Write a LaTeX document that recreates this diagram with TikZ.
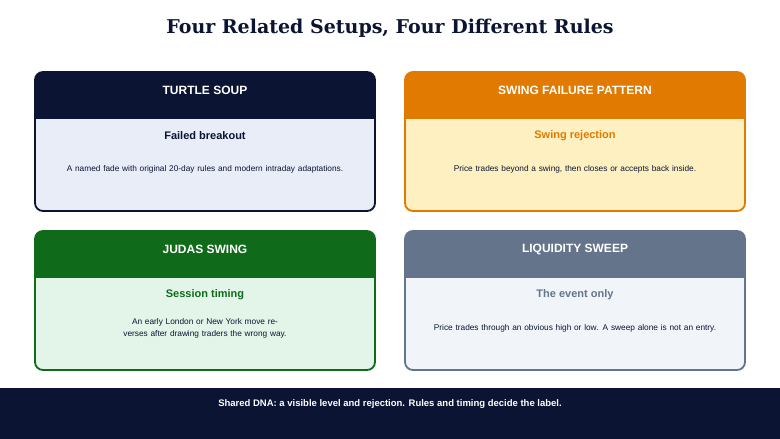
\documentclass[tikz,border=0pt]{standalone}
\usepackage{fontspec}
\setmainfont{Liberation Sans}
\newfontfamily\titlefont{DejaVu Serif}
\definecolor{navy}{HTML}{0B1533}
\definecolor{org}{HTML}{E07A00}
\definecolor{orgb}{HTML}{FEF0C0}
\definecolor{grn}{HTML}{0F6B1A}
\definecolor{grnb}{HTML}{E3F5E8}
\definecolor{slt}{HTML}{64748B}
\definecolor{sltb}{HTML}{F1F5F9}
\definecolor{navb}{HTML}{E8EDF8}
\begin{document}
\begin{tikzpicture}[x=1pt,y=-1pt,
  hdr/.style={font=\bfseries\fontsize{12}{14}\selectfont,text=white},
  sub/.style={font=\bfseries\fontsize{11}{13}\selectfont},
  body/.style={font=\fontsize{8.3}{12}\selectfont,text=navy,align=center,text width=300pt}]
\useasboundingbox (0,0) rectangle (780,439);
\fill[white] (0,0) rectangle (780,439);
\node[font=\titlefont\bfseries\fontsize{19}{22}\selectfont,text=navy] (title) at (390,28) {Four Related Setups, Four Different Rules};
\newcommand{\card}[9]{%
  % #1 x, #2 y, #3 main col, #4 body col, #5 title, #6 sub, #7 body, #8 subcol, #9 name
  \begin{scope}
  \clip[rounded corners=8] (#1,#2) rectangle ++(340,139);
  \fill[#4] (#1,#2) rectangle ++(340,139);
  \fill[#3] (#1,#2) rectangle ++(340,47);
  \end{scope}
  \draw[#3,line width=1.8,rounded corners=8] (#1,#2) rectangle ++(340,139);
  \node[hdr] (#9h) at (#1+170,#2+18) {#5};
  \node[sub,text=#8] (#9s) at (#1+170,#2+64) {#6};
  \node[body] (#9b) at (#1+170,#2+97) {#7};
}
\card{35}{72}{navy}{navb}{TURTLE SOUP}{Failed breakout}{A named fade with original 20-day rules and modern intraday adaptations.}{navy}{a}
\card{405}{72}{org}{orgb}{SWING FAILURE PATTERN}{Swing rejection}{Price trades beyond a swing, then closes or accepts back inside.}{org}{b}
\card{35}{231}{grn}{grnb}{JUDAS SWING}{Session timing}{An early London or New York move reverses after drawing traders the wrong way.}{grn}{c}
\card{405}{231}{slt}{sltb}{LIQUIDITY SWEEP}{The event only}{Price trades through an obvious high or low. A sweep alone is not an entry.}{slt}{d}
\fill[navy] (0,388) rectangle (780,439);
\node[font=\bfseries\fontsize{9.5}{12}\selectfont,text=white] (foot) at (390,404) {Shared DNA: a visible level and rejection. Rules and timing decide the label.};
\end{tikzpicture}
\end{document}
